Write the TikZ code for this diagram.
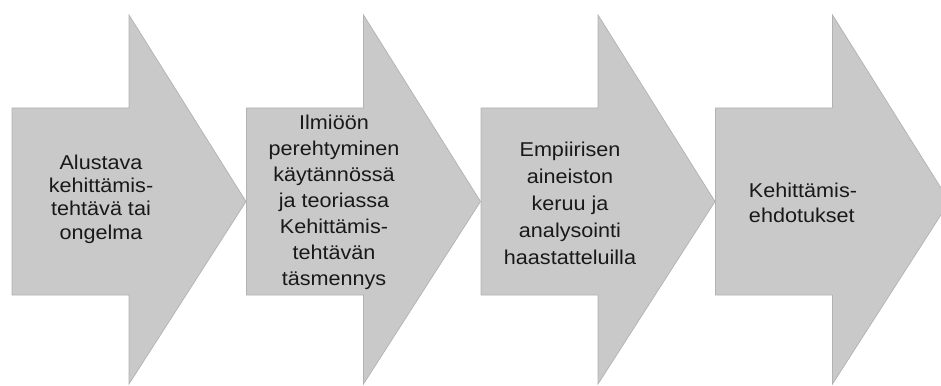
\documentclass[tikz,border=0pt]{standalone}
\usepackage{fontspec}
\setmainfont[FakeStretch=1.08]{Liberation Sans}
\definecolor{arrowgray}{RGB}{201,201,201}
\definecolor{edgegray}{RGB}{178,178,178}
\definecolor{inkgray}{RGB}{25,25,25}
\begin{document}
\begin{tikzpicture}[x=1pt,y=-1pt,
  stagearrow/.style={fill=arrowgray, draw=edgegray, line width=0.7pt, line join=miter},
  stagetext/.style={text=inkgray, align=center, inner sep=0pt}]
\useasboundingbox (0,0) rectangle (941,385);
\clip (0,0) rectangle (941,385);

% four block arrows of the process, body 108..295, head 15..384
\foreach \L in {12,246.5,481,715.5}{
  \draw[stagearrow] (\L,108) -- (\L+117,108) -- (\L+117,15) -- (\L+234,201.5)
        -- (\L+117,384) -- (\L+117,295) -- (\L,295) -- cycle;
}

\node[stagetext, font={\fontsize{20}{23.3}\selectfont}] (s1) at (101,199)
  {Alustava\\kehittämis-\\tehtävä tai\\ongelma};
\node[stagetext, font={\fontsize{20}{26}\selectfont}] (s2) at (334,202)
  {Ilmiöön\\perehtyminen\\käytännössä\\ja teoriassa\\Kehittämis-\\tehtävän\\täsmennys};
\node[stagetext, font={\fontsize{20}{27}\selectfont}] (s3) at (570,203)
  {Empiirisen\\aineiston\\keruu ja\\analysointi\\haastatteluilla};
\node[stagetext, align=left, font={\fontsize{20}{25}\selectfont}] (s4) at (803,203)
  {Kehittämis-\\ehdotukset};
\end{tikzpicture}
\end{document}
